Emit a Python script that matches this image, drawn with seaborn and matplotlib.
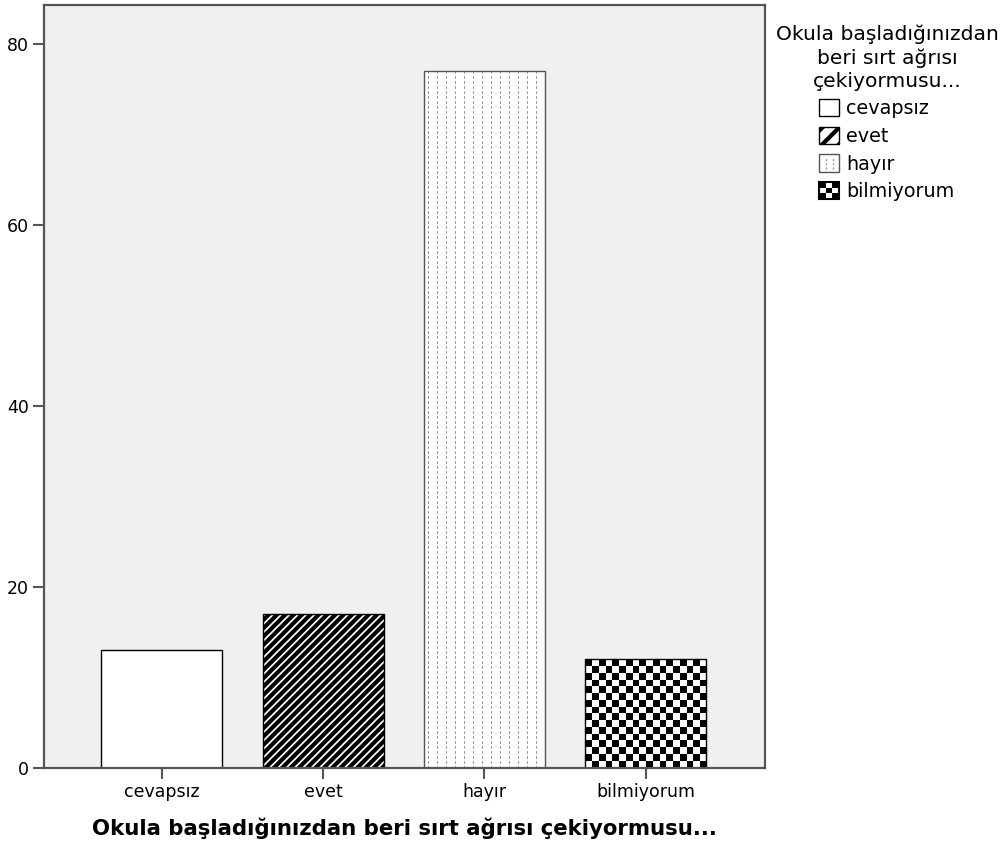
import numpy as np
import matplotlib
matplotlib.use('Agg')
import matplotlib.pyplot as plt
import seaborn as sns
from matplotlib.patches import Patch, Rectangle
from matplotlib.lines import Line2D
from matplotlib.legend_handler import HandlerBase

# Data
categories = ['cevapsız', 'evet', 'hayır', 'bilmiyorum']
counts = [13, 17, 77, 12]
y_ticks = [0, 20, 40, 60, 80]
axis_title = 'Okula başladığınızdan beri sırt ağrısı çekiyormusu...'
legend_title = 'Okula başladığınızdan\nberi sırt ağrısı\nçekiyormusu...'

sns.set_theme(style='white')
plt.rcParams['font.family'] = ['DejaVu Sans']
plt.rcParams['text.color'] = 'black'
plt.rcParams['axes.labelcolor'] = 'black'
plt.rcParams['hatch.linewidth'] = 3.0

fig = plt.figure(figsize=(10.07, 8.5), dpi=100)
ax = fig.add_axes([0.0437, 0.0965, 0.716, 0.8976])
ax.set_facecolor('#f0f0f0')

sns.barplot(x=categories, y=counts, hue=categories,
            palette={c: 'white' for c in categories}, saturation=1,
            legend=False, width=0.75, edgecolor='black', linewidth=1.0, ax=ax)

xlim = (-0.73, 3.74)
ylim = (0, 84.3)
ax.set_xlim(xlim)
ax.set_ylim(ylim)

bars = ax.patches
bars[1].set_hatch('////')


def fill_pattern(bar, kind):
    # pattern image, one cell per screen pixel, clipped to the bar
    x0, y0 = bar.get_x(), bar.get_y()
    x1, y1 = x0 + bar.get_width(), y0 + bar.get_height()
    (px0, py0), (px1, py1) = ax.transData.transform([(x0, y0), (x1, y1)])
    w, h = int(round(px1 - px0)), int(round(py1 - py0))
    jj, ii = np.meshgrid(np.arange(w), np.arange(h))
    if kind == 'checker':
        on = ((jj // 6.75 + ii // 6.75) % 2 == 0)
        img = np.where(on, 0.0, 1.0)
    else:
        on = (jj % 9 == 4) & (ii % 5 < 3)
        img = np.where(on, 0.62, 1.0)
    im = ax.imshow(img, cmap='gray', vmin=0, vmax=1, extent=(x0, x1, y0, y1),
                   origin='upper', interpolation='nearest', aspect='auto', zorder=0.9)
    im.set_clip_path(bar)
    bar.set_facecolor('none')


fill_pattern(bars[2], 'dots')
fill_pattern(bars[3], 'checker')
bars[2].set_edgecolor('#555555')
ax.set_xlim(xlim)
ax.set_ylim(ylim)

ax.set_yticks(y_ticks)
for s in ax.spines.values():
    s.set_color('#555555')
    s.set_linewidth(1.6)
ax.tick_params(bottom=True, left=True, direction='out', length=8, width=1.5,
               color='#555555', labelsize=12.5, labelcolor='black', pad=3)
ax.set_xlabel(axis_title, fontsize=15.3, fontweight='bold', labelpad=12)
ax.set_ylabel('')


class HandlerDots(HandlerBase):
    def create_artists(self, legend, orig_handle, xdescent, ydescent, width, height, fontsize, trans):
        arts = [Rectangle((-xdescent, -ydescent), width, height, facecolor='white',
                          edgecolor='#555555', lw=1, transform=trans)]
        for f in (0.35, 0.7):
            arts.append(Line2D([-xdescent + f * width] * 2, [-ydescent + 2, -ydescent + height - 2],
                               color='#999999', lw=1, linestyle=(0, (1.5, 1.5)), transform=trans))
        return arts


class HandlerChecker(HandlerBase):
    def create_artists(self, legend, orig_handle, xdescent, ydescent, width, height, fontsize, trans):
        n = 3
        cw, ch = width / n, height / n
        arts = [Rectangle((-xdescent, -ydescent), width, height, facecolor='white',
                          edgecolor='none', transform=trans)]
        for i in range(n):
            for j in range(n):
                if (i + j) % 2 == 0:
                    arts.append(Rectangle((-xdescent + i * cw, -ydescent + j * ch), cw, ch,
                                          facecolor='black', edgecolor='none', transform=trans))
        arts.append(Rectangle((-xdescent, -ydescent), width, height, fill=False,
                              edgecolor='black', lw=1.5, transform=trans))
        return arts


h_white = Patch(facecolor='white', edgecolor='black', lw=1)
h_hatch = Patch(facecolor='white', edgecolor='black', lw=1, hatch='//')
h_dots = Patch(facecolor='white')
h_check = Patch(facecolor='white')
leg = fig.legend([h_white, h_hatch, h_dots, h_check], categories,
                 handler_map={h_dots: HandlerDots(), h_check: HandlerChecker()},
                 title=legend_title, loc='upper center',
                 bbox_to_anchor=(887 / 1007, 1 - 15 / 850), frameon=False,
                 fontsize=13.8, title_fontsize=14.6, handlelength=1.0, handleheight=1.0,
                 handletextpad=0.4, labelspacing=0.44, borderpad=0)
leg.get_title().set_multialignment('center')
leg.get_title().set_linespacing(1.27)

fig.savefig('out.png', dpi=100)
